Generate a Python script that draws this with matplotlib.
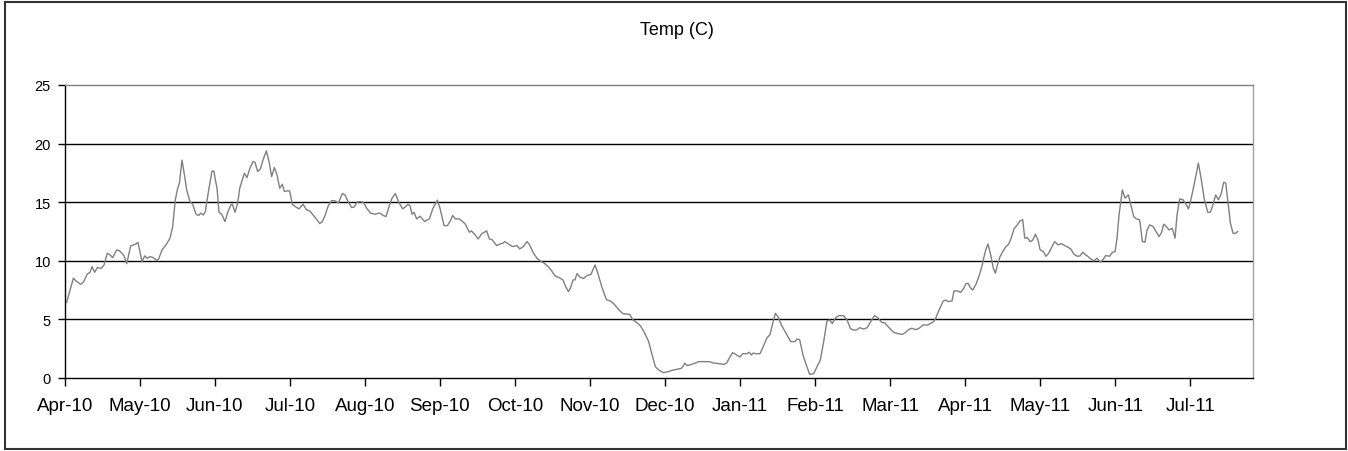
import matplotlib.pyplot as plt
from matplotlib.patches import Rectangle

plt.rcParams['font.family'] = ['Liberation Sans', 'DejaVu Sans']

month_labels = ['Apr-10', 'May-10', 'Jun-10', 'Jul-10', 'Aug-10', 'Sep-10',
                'Oct-10', 'Nov-10', 'Dec-10', 'Jan-11', 'Feb-11', 'Mar-11',
                'Apr-11', 'May-11', 'Jun-11', 'Jul-11']

# time in months after 1 Apr 2010
month_pos = [
    0.026, 0.115, 0.160, 0.213, 0.248, 0.302, 0.337, 0.364, 0.399, 0.435,
    0.488, 0.524, 0.568, 0.604, 0.639, 0.693, 0.728, 0.790, 0.826, 0.879,
    0.941, 0.977, 1.030, 1.066, 1.101, 1.137, 1.172, 1.226, 1.252, 1.297,
    1.350, 1.403, 1.439, 1.474, 1.501, 1.528, 1.563, 1.599, 1.625, 1.670,
    1.705, 1.750, 1.785, 1.812, 1.847, 1.874, 1.919, 1.963, 1.990,
    2.003, 2.030, 2.056, 2.092, 2.136, 2.172, 2.216, 2.234, 2.269, 2.305,
    2.332, 2.394, 2.429, 2.465, 2.509, 2.536, 2.571, 2.607, 2.651, 2.687,
    2.723, 2.758, 2.794, 2.829, 2.865, 2.900, 2.927, 2.962, 2.998, 3.033,
    3.078, 3.122, 3.176, 3.220, 3.264, 3.309, 3.353, 3.398, 3.433, 3.469,
    3.513, 3.558, 3.602, 3.647, 3.700, 3.735, 3.780, 3.824, 3.860, 3.895,
    3.931, 3.980, 4.024, 4.077, 4.139, 4.193, 4.246, 4.282, 4.326, 4.362,
    4.406, 4.451, 4.504, 4.540, 4.575, 4.601, 4.628, 4.655, 4.690, 4.735,
    4.797, 4.824, 4.859, 4.904, 4.966, 5.001, 5.055, 5.099, 5.135, 5.170,
    5.206, 5.259, 5.303, 5.339, 5.392, 5.418, 5.472, 5.508, 5.561, 5.623,
    5.659, 5.694, 5.721, 5.757, 5.792, 5.836, 5.863, 5.912, 5.965, 6.027,
    6.063, 6.107, 6.161, 6.196, 6.240, 6.294, 6.338, 6.392, 6.445, 6.481,
    6.534, 6.587, 6.640, 6.676, 6.712, 6.738, 6.774, 6.800, 6.827, 6.871,
    6.916, 6.960, 7.013, 7.067, 7.111, 7.156, 7.218, 7.271, 7.324, 7.387,
    7.440, 7.529, 7.573, 7.618, 7.671, 7.724, 7.782, 7.818, 7.871, 7.915,
    7.977, 8.040, 8.093, 8.155, 8.217, 8.235, 8.262, 8.297, 8.350, 8.404,
    8.448, 8.519, 8.590, 8.644, 8.715, 8.786, 8.821, 8.866, 8.901, 8.955,
    8.999, 9.035, 9.088, 9.124, 9.150, 9.177, 9.204, 9.266, 9.310, 9.355,
    9.399, 9.435, 9.470, 9.506, 9.550, 9.595, 9.639, 9.675, 9.732, 9.758,
    9.794, 9.838, 9.883, 9.927, 9.981, 10.025, 10.069, 10.114, 10.158,
    10.194, 10.229, 10.274, 10.318, 10.380, 10.425, 10.469, 10.505, 10.549,
    10.594, 10.647, 10.692, 10.736, 10.789, 10.834, 10.887, 10.931, 10.985,
    11.047, 11.109, 11.163, 11.207, 11.243, 11.287, 11.341, 11.385, 11.438,
    11.500, 11.580, 11.607, 11.633, 11.663, 11.707, 11.745, 11.771, 11.824,
    11.851, 11.895, 11.940, 11.975, 12.011, 12.038, 12.073, 12.100, 12.144,
    12.189, 12.224, 12.251, 12.278, 12.304, 12.340, 12.375, 12.402, 12.429,
    12.464, 12.508, 12.544, 12.579, 12.615, 12.650, 12.695, 12.730, 12.766,
    12.793, 12.828, 12.864, 12.899, 12.935, 12.970, 12.997, 13.041, 13.077,
    13.112, 13.157, 13.192, 13.237, 13.281, 13.326, 13.361, 13.406, 13.450,
    13.494, 13.530, 13.566, 13.596, 13.632, 13.676, 13.712, 13.757, 13.801,
    13.837, 13.872, 13.926, 13.961, 13.997, 14.023, 14.050, 14.094, 14.130,
    14.174, 14.201, 14.246, 14.281, 14.325, 14.361, 14.396, 14.423, 14.458,
    14.503, 14.538, 14.583, 14.618, 14.645, 14.680, 14.716, 14.760, 14.796,
    14.823, 14.858, 14.903, 14.947, 14.974, 15.000, 15.036, 15.071, 15.107,
    15.143, 15.187, 15.232, 15.267, 15.303, 15.338, 15.374, 15.409, 15.445,
    15.472, 15.498, 15.534, 15.569, 15.596, 15.631,
]

temp_c = [
    6.44, 8.49, 8.21, 7.98, 8.15, 8.86, 9.00, 9.49, 9.00, 9.40,
    9.34, 9.63, 10.63, 10.48, 10.26, 10.91, 10.85, 10.43, 9.74, 11.25,
    11.40, 11.54, 9.91, 10.40, 10.20, 10.34, 10.28, 10.03, 10.14, 10.91,
    11.34, 11.91, 12.91, 15.19, 16.04, 16.61, 18.58, 17.18, 16.04, 15.04,
    14.81, 13.96, 13.85, 14.05, 13.90, 14.19, 16.04, 17.66, 17.61,
    17.04, 16.18, 14.13, 13.96, 13.33, 14.13, 14.76, 14.81, 14.13, 14.90,
    16.18, 17.46, 17.09, 17.83, 18.46, 18.40, 17.61, 17.83, 18.75, 19.37,
    18.46, 17.18, 17.95, 17.32, 16.18, 16.52, 15.90, 15.95, 15.95, 14.81,
    14.59, 14.42, 14.81, 14.36, 14.25, 13.90, 13.56, 13.16, 13.33, 13.85,
    14.70, 15.13, 15.10, 14.93, 15.73, 15.61, 14.99, 14.53, 14.59, 14.99,
    15.04, 14.99, 14.47, 14.05, 13.96, 14.07, 13.85, 13.76, 14.70, 15.33,
    15.73, 14.99, 14.42, 14.59, 14.81, 14.70, 13.96, 14.13, 13.56, 13.79,
    13.33, 13.45, 13.56, 14.42, 15.16, 14.47, 12.99, 12.99, 13.33, 13.85,
    13.56, 13.56, 13.33, 13.11, 12.42, 12.54, 12.19, 11.85, 12.31, 12.54,
    11.85, 11.79, 11.57, 11.28, 11.40, 11.48, 11.62, 11.42, 11.20, 11.28,
    11.00, 11.17, 11.62, 11.34, 10.71, 10.20, 9.97, 9.77, 9.46, 9.20,
    8.69, 8.55, 8.35, 7.78, 7.35, 7.64, 8.35, 8.35, 8.89, 8.55,
    8.49, 8.72, 8.83, 9.63, 8.78, 7.78, 6.67, 6.55, 6.27, 5.78,
    5.47, 5.41, 4.93, 4.73, 4.44, 3.87, 3.08, 2.17, 0.94, 0.66,
    0.43, 0.51, 0.63, 0.71, 0.80, 0.91, 1.23, 1.03, 1.14, 1.25,
    1.37, 1.37, 1.37, 1.25, 1.20, 1.14, 1.25, 1.79, 2.14, 1.94,
    1.77, 2.05, 2.05, 2.17, 1.94, 2.11, 2.05, 2.05, 2.68, 3.36,
    3.70, 4.64, 5.50, 5.21, 4.50, 3.99, 3.48, 3.08, 3.08, 3.30,
    3.25, 1.94, 1.08, 0.29, 0.34, 0.94, 1.51, 3.08, 4.84,
    4.93, 4.62, 5.13, 5.30, 5.30, 4.93, 4.22, 4.07, 4.07,
    4.27, 4.16, 4.27, 4.73, 5.30, 5.13, 4.73, 4.67, 4.27,
    3.87, 3.76, 3.70, 3.87, 4.10, 4.22, 4.10, 4.22, 4.50,
    4.50, 4.79, 5.07, 5.50, 5.93, 6.55, 6.64, 6.50, 6.55,
    7.41, 7.41, 7.29, 7.58, 8.03, 8.06, 7.64, 7.49, 7.98,
    8.77, 9.54, 10.34, 11.00, 11.42, 10.48, 9.34, 8.92, 9.63,
    10.34, 10.85, 11.20, 11.40, 11.97, 12.71, 13.05, 13.39, 13.50,
    11.91, 11.97, 11.62, 11.74, 12.25, 11.77, 10.94, 10.77, 10.37,
    10.63, 11.20, 11.62, 11.34, 11.45, 11.28, 11.17, 11.00, 10.54,
    10.37, 10.40, 10.71, 10.54, 10.37, 10.14, 9.97, 10.20, 9.86,
    10.09, 10.43, 10.37, 10.71, 10.77, 11.91, 13.90, 16.04, 15.33,
    15.61, 14.90, 13.76, 13.56, 13.48, 11.62, 11.57, 12.62, 13.05,
    12.91, 12.54, 12.05, 12.42, 13.11, 12.91, 12.62, 12.76, 11.91,
    13.90, 15.27, 15.19, 14.76, 14.42, 14.99, 16.04, 17.18, 18.32,
    17.04, 15.19, 14.13, 14.13, 14.81, 15.61, 15.19, 15.67, 16.70,
    16.61, 15.19, 13.19, 12.34, 12.31, 12.48,
]

fig = plt.figure(figsize=(13.48, 4.52), dpi=100)
ax = fig.add_axes([0.048, 0.1622, 0.8813, 0.6476])

ax.plot(month_pos, temp_c, color='#808080', lw=1.0)

ax.set_xlim(0, 15.831)
ax.set_ylim(0, 25)
ax.set_yticks(range(0, 26, 5))
ax.set_xticks(range(len(month_labels)))
ax.set_xticklabels(month_labels)
ax.tick_params(axis='y', labelsize=10.5, length=5, width=1, pad=5)
ax.tick_params(axis='x', labelsize=13.5, length=6, width=1, pad=8)

ax.grid(axis='y', color='black', lw=1)
ax.set_axisbelow(True)
ygrid = ax.get_ygridlines()
ygrid[0].set_visible(False)
ygrid[-1].set_visible(False)

ax.spines['left'].set_color('black')
ax.spines['bottom'].set_color('black')
ax.spines['top'].set_color('#808080')
ax.spines['right'].set_color('#a0a0a0')
for s in ax.spines.values():
    s.set_linewidth(1.0)

fig.text(0.502, 0.933, 'Temp (C)', ha='center', va='center', fontsize=13)

# chart frame
fig.patches.append(Rectangle((5 / 1348, 2 / 452), 1340.5 / 1348, 447.5 / 452,
                             transform=fig.transFigure, fill=False,
                             edgecolor='#333333', lw=1.5))

fig.savefig('out.png', dpi=100)
